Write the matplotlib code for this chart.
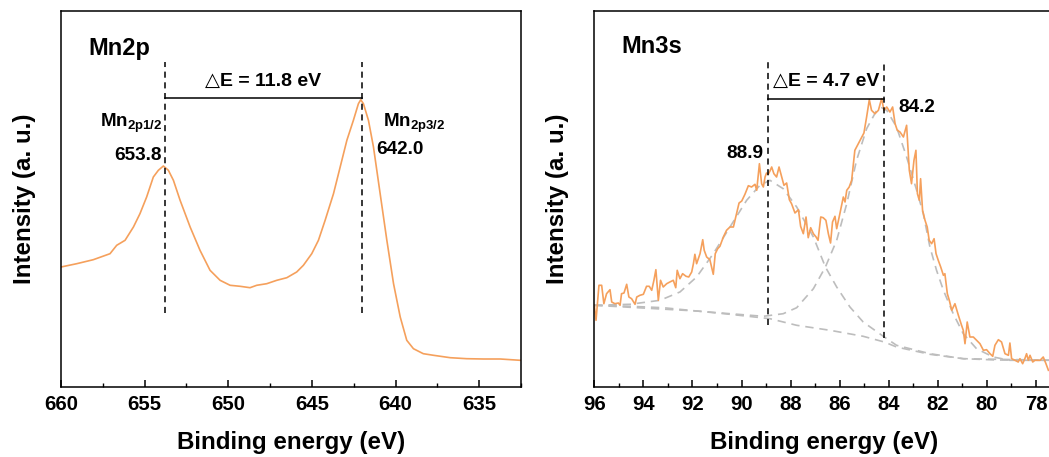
import matplotlib
matplotlib.use("Agg")
import matplotlib.pyplot as plt
from matplotlib.ticker import MultipleLocator

plt.rcParams['font.family'] = ['Liberation Sans', 'DejaVu Sans']
plt.rcParams['font.weight'] = 'bold'
plt.rcParams['mathtext.fontset'] = 'custom'
plt.rcParams['mathtext.rm'] = 'Liberation Sans'
plt.rcParams['mathtext.bf'] = 'Liberation Sans:bold'

# ---------------- Mn 2p spectrum ----------------
mn2p_energy = [660.00, 659.06, 658.07, 657.07, 656.67, 656.17, 655.67, 655.28,
               654.88, 654.48, 654.18, 653.88, 653.58, 653.28, 652.88, 652.28,
               651.69, 651.09, 650.49, 649.89, 649.29, 648.70, 648.30, 647.70,
               647.10, 646.50, 645.91, 645.51, 645.01, 644.61, 644.21, 643.71,
               643.31, 642.91, 642.52, 642.22, 642.08, 641.92, 641.62, 641.32,
               640.92, 640.52, 640.12, 639.72, 639.33, 638.93, 638.34, 637.73,
               636.73, 635.74, 634.74, 633.74, 632.55]
mn2p_intensity = [120.0, 123.3, 127.3, 133.3, 141.7, 146.7, 160.0, 173.3,
                  190.0, 210.0, 216.7, 221.0, 216.7, 206.7, 186.7, 160.0,
                  136.7, 116.7, 106.7, 101.7, 100.7, 99.3, 101.7, 103.3,
                  106.7, 109.3, 115.0, 121.7, 133.3, 146.7, 166.7, 193.3,
                  220.0, 246.7, 266.7, 283.3, 287.3, 283.3, 266.7, 240.0,
                  193.3, 146.7, 103.3, 70.0, 46.7, 38.3, 33.3, 31.7,
                  29.3, 28.3, 28.0, 28.0, 26.7]
mn2p_peaks = [653.8, 642.0]
mn2p_split = 11.8

# ---------------- Mn 3s spectrum ----------------
mn3s_energy = [96.00, 95.93, 95.81, 95.70, 95.61, 95.50, 95.36, 95.29, 95.16, 95.02,
               94.95, 94.89, 94.79, 94.68, 94.59, 94.48, 94.34, 94.27, 94.14, 94.00,
               93.87, 93.76, 93.66, 93.57, 93.49, 93.39, 93.30, 93.19, 93.05, 92.92,
               92.78, 92.68, 92.62, 92.51, 92.40, 92.26, 92.15, 92.03, 91.96, 91.90,
               91.83, 91.69, 91.58, 91.52, 91.42, 91.29, 91.15, 91.07, 90.97, 90.88,
               90.74, 90.61, 90.47, 90.33, 90.20, 90.10, 89.99, 89.86, 89.72, 89.59,
               89.45, 89.38, 89.27, 89.18, 89.11, 89.04, 88.98, 88.91, 88.84, 88.77,
               88.68, 88.57, 88.47, 88.36, 88.27, 88.16, 88.05, 87.96, 87.82, 87.68,
               87.59, 87.48, 87.37, 87.28, 87.18, 87.07, 86.96, 86.88, 86.77, 86.67,
               86.56, 86.46, 86.37, 86.29, 86.19, 86.12, 85.99, 85.85, 85.78, 85.71,
               85.61, 85.51, 85.38, 85.24, 85.10, 85.01, 84.90, 84.79, 84.70, 84.56,
               84.42, 84.29, 84.19, 84.08, 83.95, 83.84, 83.74, 83.65, 83.54, 83.40,
               83.27, 83.16, 83.07, 82.97, 82.89, 82.83, 82.75, 82.70, 82.62, 82.52,
               82.43, 82.35, 82.25, 82.15, 82.07, 81.98, 81.88, 81.77, 81.71, 81.61,
               81.53, 81.43, 81.30, 81.16, 81.03, 80.96, 80.89, 80.80, 80.69, 80.55,
               80.42, 80.28, 80.14, 80.01, 79.87, 79.76, 79.67, 79.53, 79.40, 79.26,
               79.12, 79.06, 78.99, 78.85, 78.72, 78.65, 78.54, 78.45, 78.38, 78.31,
               78.24, 78.13, 78.04, 77.94, 77.83, 77.70, 77.59, 77.49]
mn3s_intensity = [81.7, 66.7, 101.7, 101.7, 83.3, 93.3, 97.3, 85.0, 83.3, 84.0,
                  81.7, 93.3, 94.0, 102.7, 90.0, 88.3, 82.7, 90.0, 91.7, 92.7,
                  100.7, 100.7, 96.7, 106.7, 117.3, 86.7, 106.7, 100.0, 103.3, 105.0,
                  106.7, 99.3, 116.7, 108.3, 113.3, 110.7, 110.0, 115.0, 123.3, 132.7,
                  123.3, 133.3, 147.3, 136.7, 130.0, 127.3, 112.7, 133.3, 138.3, 140.7,
                  150.0, 156.7, 160.0, 160.0, 173.3, 184.0, 186.0, 192.7, 201.3, 200.0,
                  202.7, 196.7, 223.3, 203.3, 200.0, 210.0, 214.0, 212.7, 216.0, 220.0,
                  213.3, 210.0, 220.0, 210.0, 201.7, 204.0, 187.3, 183.3, 174.0, 177.3,
                  160.7, 153.3, 170.0, 149.3, 159.3, 153.3, 150.0, 146.7, 170.0, 169.3,
                  166.7, 153.3, 144.0, 165.0, 170.7, 158.3, 173.3, 190.0, 185.0, 196.7,
                  200.0, 206.7, 236.7, 243.3, 250.0, 254.0, 270.0, 287.3, 276.7, 273.3,
                  276.7, 288.3, 276.7, 280.0, 275.0, 280.0, 263.3, 256.7, 255.0, 250.0,
                  261.7, 216.7, 203.3, 226.7, 236.7, 193.3, 186.7, 208.3, 176.7, 166.7,
                  160.0, 146.7, 143.3, 148.3, 133.3, 126.7, 120.0, 111.7, 113.3, 93.3,
                  86.7, 76.7, 83.3, 71.7, 61.7, 56.7, 43.3, 65.0, 50.0, 50.0,
                  46.7, 43.3, 36.7, 37.3, 33.3, 30.7, 41.7, 47.3, 45.0, 33.3,
                  31.7, 44.0, 28.3, 26.7, 25.0, 28.3, 23.3, 28.3, 33.3, 26.7,
                  31.7, 25.0, 26.7, 26.7, 26.7, 30.0, 23.3, 16.7]

# fitted background and the two multiplet components (on background)
bg_energy = [96.00, 94.55, 93.19, 91.83, 90.47, 88.84, 87.75, 86.39, 85.04, 84.18,
             83.68, 82.32, 80.96, 79.60, 77.25]
bg_intensity = [81.7, 80.7, 79.3, 76.0, 72.7, 68.3, 61.7, 56.7, 50.7, 45.0,
                40.0, 32.7, 28.3, 27.0, 26.7]

fit1_energy = [96.00, 94.55, 93.32, 92.51, 91.83, 91.15, 90.47, 89.79, 89.25, 88.84,
               88.30, 87.75, 87.07, 86.58, 86.12, 85.58, 85.04, 84.18, 83.68, 82.32,
               80.96, 77.25]
fit1_intensity = [81.7, 82.7, 86.7, 95.0, 110.0, 133.3, 160.0, 186.7, 201.7, 206.7,
                  198.3, 180.0, 150.0, 120.0, 100.0, 80.0, 65.0, 50.0, 41.7, 33.3,
                  28.3, 26.7]

fit2_energy = [96.00, 91.83, 90.47, 89.11, 88.30, 87.75, 87.07, 86.58, 86.12, 85.71,
               85.31, 84.90, 84.49, 84.29, 84.08, 83.68, 83.27, 82.86, 82.59, 82.32,
               82.05, 81.77, 81.37, 80.96, 80.42, 79.74, 79.06, 77.25]
fit2_intensity = [81.7, 76.0, 73.3, 70.7, 73.3, 79.3, 98.3, 120.0, 146.7, 183.3,
                  226.7, 258.3, 276.7, 279.3, 276.7, 260.0, 230.0, 196.7, 173.3, 140.0,
                  116.7, 96.7, 73.3, 53.3, 38.3, 30.0, 26.7, 26.7]

mn3s_peaks = [88.9, 84.2]
mn3s_split = 4.7

ORANGE = '#F5A05C'
GREY = '#BDBDBD'
DELTA_FONT = ['Liberation Sans', 'DejaVu Sans']

fig = plt.figure(figsize=(10.49, 4.57), dpi=100)
W, H = 1049.0, 457.0
ax1 = fig.add_axes([61 / W, (H - 387) / H, 460 / W, 376 / H])
ax2 = fig.add_axes([594.3 / W, (H - 387) / H, 460 / W, 376 / H])


def style_axes(ax, major, minor):
    ax.set_ylim(0, 376)
    ax.set_yticks([])
    ax.xaxis.set_major_locator(MultipleLocator(major))
    ax.xaxis.set_minor_locator(MultipleLocator(minor))
    ax.tick_params(axis='x', which='major', direction='in', length=5, width=1.1,
                   labelsize=14.7, pad=6)
    ax.tick_params(axis='x', which='minor', direction='in', length=3, width=1.0)
    for lab in ax.get_xticklabels():
        lab.set_fontweight('bold')
    for sp in ax.spines.values():
        sp.set_linewidth(1.1)
    ax.set_xlabel('Binding energy (eV)', fontsize=17.4, fontweight='bold', labelpad=12)
    ax.set_ylabel('Intensity (a. u.)', fontsize=17.4, fontweight='bold', labelpad=18)


# ---- left panel: Mn2p ----
ax1.plot(mn2p_energy, mn2p_intensity, color=ORANGE, lw=1.2)
ax1.set_xlim(660, 632.5)
style_axes(ax1, 5, 2.5)
for e in mn2p_peaks:
    ax1.plot([e, e], [73.7, 325.3], color='black', lw=1.1, ls=(0, (4, 3)))
ax1.plot(mn2p_peaks, [289.3, 289.3], color='black', lw=1.1)
ax1.text(sum(mn2p_peaks) / 2, 306, '\u25b3E = %.1f eV' % mn2p_split,
         ha='center', va='center', fontsize=14, fontweight='bold',
         family=DELTA_FONT)
ax1.text(0.06, 0.9, 'Mn2p', transform=ax1.transAxes, fontsize=17,
         fontweight='bold', ha='left', va='center')
ax1.text(mn2p_peaks[0] + 0.15, 264, r'Mn$_{\mathbf{2p1/2}}$', ha='right',
         va='center', fontsize=13.5, fontweight='bold')
ax1.text(mn2p_peaks[0] + 0.15, 232, '%.1f' % mn2p_peaks[0], ha='right',
         va='center', fontsize=13.7, fontweight='bold')
ax1.text(640.75, 264, r'Mn$_{\mathbf{2p3/2}}$', ha='left', va='center',
         fontsize=13.5, fontweight='bold')
ax1.text(641.15, 238, '%.1f' % mn2p_peaks[1], ha='left', va='center',
         fontsize=13.7, fontweight='bold')

# ---- right panel: Mn3s ----
dash = (0, (5, 3.5))
ax2.plot(bg_energy, bg_intensity, color=GREY, lw=1.2, ls=dash)
ax2.plot(fit1_energy, fit1_intensity, color=GREY, lw=1.2, ls=dash)
ax2.plot(fit2_energy, fit2_intensity, color=GREY, lw=1.2, ls=dash)
ax2.plot(mn3s_energy, mn3s_intensity, color=ORANGE, lw=1.2)
ax2.set_xlim(96, 77.25)
style_axes(ax2, 2, 1)
ax2.plot([mn3s_peaks[0]] * 2, [62, 326], color='black', lw=1.1, ls=(0, (4, 3)))
ax2.plot([mn3s_peaks[1]] * 2, [49, 324], color='black', lw=1.1, ls=(0, (4, 3)))
ax2.plot(mn3s_peaks, [287.7, 287.7], color='black', lw=1.1)
ax2.text(sum(mn3s_peaks) / 2, 306, '\u25b3E = %.1f eV' % mn3s_split,
         ha='center', va='center', fontsize=14, fontweight='bold',
         family=DELTA_FONT)
ax2.text(0.058, 0.905, 'Mn3s', transform=ax2.transAxes, fontsize=17,
         fontweight='bold', ha='left', va='center')
ax2.text(89.1, 234, '%.1f' % mn3s_peaks[0], ha='right', va='center',
         fontsize=13.7, fontweight='bold')
ax2.text(83.6, 280, '%.1f' % mn3s_peaks[1], ha='left', va='center',
         fontsize=13.7, fontweight='bold')

fig.savefig('out.png', dpi=100)
